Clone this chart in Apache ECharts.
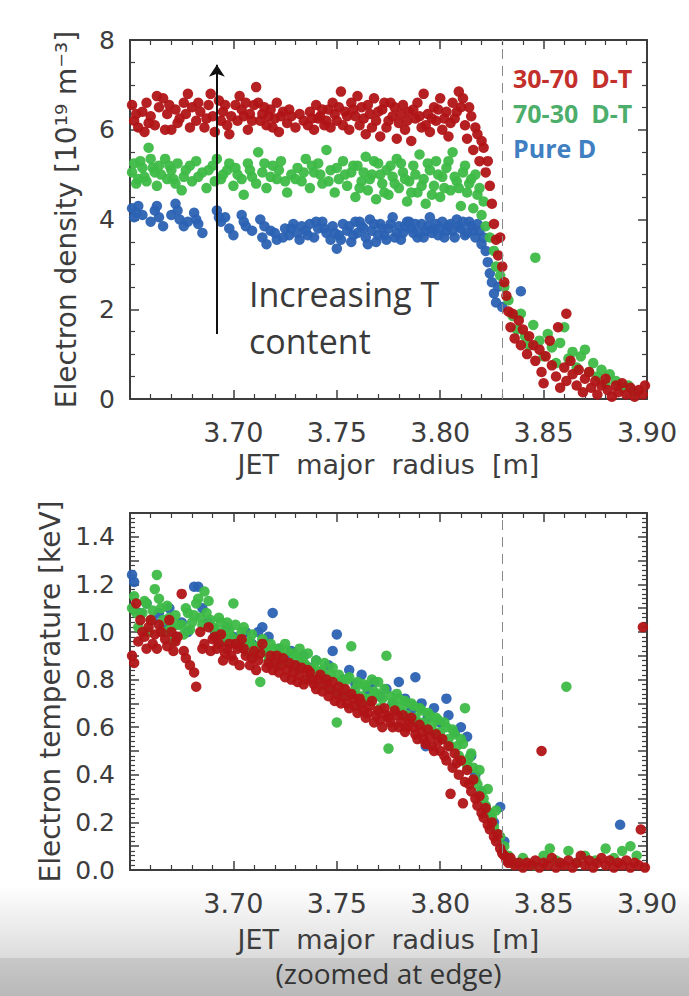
<!DOCTYPE html>
<html>
<head>
<meta charset="utf-8">
<script src="https://cdn.jsdelivr.net/npm/echarts@6/dist/echarts.min.js"></script>
<style>
  html, body { margin: 0; padding: 0; background: #fff; }
  #main { width: 689px; height: 996px; }
</style>
</head>
<body>
<div id="main"></div>
<script>
// series names, drawing order: blue under green under red
const seriesNames = ['Pure D', '70-30  D-T', '30-70  D-T'];
const pointColors = ['#2b62b3', '#3dba46', '#b11416'];
const legendColors = ['#3f7fc2', '#4dae6b', '#c3302c'];

const xTicks = [3.70, 3.75, 3.80, 3.85, 3.90];
const separatrixR = 3.83;

// electron density [1e19 m^-3] vs R [m]
const densBlue = [
  [3.651,4.25],[3.652,4.05],[3.653,4.15],[3.654,4.3],[3.656,4.1],[3.660,3.95],[3.662,4.2],[3.663,4.3],
  [3.664,4.05],[3.666,3.85],[3.670,4.1],[3.672,4.35],[3.673,4.2],[3.674,4.0],[3.676,3.85],[3.678,3.95],
  [3.681,4.15],[3.682,4.0],[3.683,3.9],[3.685,3.7],[3.692,4.2],[3.693,4.05],[3.694,3.95],[3.696,4.05],
  [3.698,3.8],[3.700,3.65],[3.704,4.1],[3.705,3.95],[3.706,3.85],[3.709,3.75],[3.713,4.0],[3.714,3.6],
  [3.715,3.85],[3.716,3.45],[3.718,3.75],[3.720,3.7],[3.721,3.55],[3.724,3.6],[3.725,3.8],[3.727,3.65],
  [3.728,3.8],[3.729,3.9],[3.731,3.7],[3.732,3.55],[3.733,3.85],[3.735,3.75],[3.736,3.65],[3.737,3.9],
  [3.739,3.6],[3.740,3.95],[3.741,3.8],[3.743,3.95],[3.744,3.8],[3.745,3.7],[3.747,3.55],[3.748,3.85],
  [3.749,3.7],[3.750,3.35],[3.751,3.65],[3.752,3.55],[3.753,3.9],[3.755,3.75],[3.756,3.85],[3.757,3.5],
  [3.758,3.65],[3.759,3.95],[3.760,3.7],[3.761,3.95],[3.762,3.85],[3.763,3.8],[3.764,3.6],[3.765,3.45],
  [3.766,4.0],[3.767,3.75],[3.768,3.9],[3.769,3.5],[3.770,3.65],[3.771,3.9],[3.772,3.8],[3.773,3.65],
  [3.774,3.55],[3.775,3.8],[3.776,3.9],[3.777,4.05],[3.778,3.6],[3.779,3.7],[3.780,3.85],[3.781,3.55],
  [3.782,3.7],[3.783,3.85],[3.784,3.95],[3.785,3.95],[3.786,3.8],[3.787,3.7],[3.788,3.9],[3.789,3.6],
  [3.790,3.7],[3.791,3.9],[3.792,3.6],[3.793,3.75],[3.794,3.85],[3.795,4.05],[3.796,3.7],[3.797,3.8],
  [3.798,3.9],[3.799,3.65],[3.800,3.8],[3.801,3.95],[3.802,3.6],[3.803,3.75],[3.804,3.85],[3.805,3.9],
  [3.806,3.75],[3.807,3.6],[3.808,4.0],[3.809,3.85],[3.810,3.8],[3.811,3.95],[3.812,3.65],[3.813,3.7],
  [3.814,3.95],[3.815,3.85],[3.816,3.75],[3.817,3.6],[3.818,3.9],[3.819,3.75],[3.820,3.45],[3.821,3.6],
  [3.822,3.3],[3.823,3.05],[3.824,2.8],[3.825,2.6],[3.826,2.35],[3.827,2.15],[3.828,2.5],[3.830,2.05],
  [3.839,2.4]
];
const densGreen = [
  [3.651,5.05],[3.652,5.25],[3.653,4.8],[3.654,4.9],[3.655,5.3],[3.656,5.15],[3.657,4.95],[3.658,4.85],
  [3.659,5.6],[3.660,5.35],[3.661,5.15],[3.662,5.05],[3.663,4.75],[3.664,5.2],[3.665,5.0],[3.667,5.35],
  [3.668,4.9],[3.669,5.2],[3.670,5.1],[3.671,4.9],[3.672,4.8],[3.673,5.25],[3.675,4.65],[3.676,4.95],
  [3.677,5.1],[3.679,5.2],[3.680,4.85],[3.682,5.3],[3.683,4.95],[3.685,5.05],[3.687,4.7],[3.688,5.1],
  [3.690,5.2],[3.691,4.85],[3.692,5.35],[3.694,4.9],[3.695,5.0],[3.697,5.1],[3.698,5.25],[3.700,4.75],
  [3.701,5.15],[3.702,5.0],[3.704,4.9],[3.705,4.55],[3.707,5.25],[3.708,5.1],[3.709,4.95],[3.711,4.8],
  [3.712,5.5],[3.714,5.05],[3.715,5.25],[3.716,4.7],[3.718,4.95],[3.719,5.2],[3.721,4.9],[3.722,5.1],
  [3.723,5.3],[3.725,4.85],[3.726,4.6],[3.728,5.0],[3.730,4.9],[3.731,5.15],[3.733,4.85],[3.734,5.05],
  [3.735,5.35],[3.737,4.7],[3.738,5.2],[3.739,5.05],[3.741,5.25],[3.742,5.0],[3.743,4.8],[3.745,5.55],
  [3.746,4.85],[3.747,5.1],[3.749,4.6],[3.750,5.15],[3.751,4.9],[3.753,5.3],[3.754,5.0],[3.755,4.75],
  [3.757,5.05],[3.758,5.2],[3.759,4.5],[3.760,5.2],[3.761,4.7],[3.762,4.85],[3.763,5.05],[3.764,5.4],
  [3.765,4.65],[3.766,4.9],[3.767,5.0],[3.768,5.3],[3.769,4.45],[3.770,5.25],[3.771,5.0],[3.772,4.8],
  [3.773,4.6],[3.774,5.1],[3.775,4.55],[3.776,5.2],[3.777,4.95],[3.778,4.8],[3.779,5.35],[3.780,4.7],
  [3.781,5.25],[3.782,5.05],[3.783,4.9],[3.784,4.4],[3.785,4.85],[3.786,4.6],[3.787,5.2],[3.788,5.0],
  [3.789,4.6],[3.790,5.45],[3.791,4.75],[3.792,4.9],[3.793,4.35],[3.794,5.25],[3.795,5.1],[3.796,4.55],
  [3.797,4.75],[3.798,5.3],[3.799,5.0],[3.800,4.5],[3.801,4.95],[3.802,4.7],[3.803,5.15],[3.804,5.3],
  [3.805,4.65],[3.806,5.5],[3.807,4.95],[3.808,4.85],[3.809,4.7],[3.810,4.3],[3.811,5.05],[3.812,5.2],
  [3.813,4.6],[3.814,4.8],[3.815,4.9],[3.816,4.25],[3.817,5.0],[3.818,4.55],[3.819,4.7],[3.820,4.1],
  [3.821,4.4],[3.822,3.85],[3.824,3.6],[3.826,3.3],[3.827,2.95],[3.829,2.75],[3.831,2.5],[3.833,2.2],
  [3.835,1.85],[3.837,1.55],[3.839,1.9],[3.841,1.4],[3.843,1.2],[3.845,1.65],[3.846,3.15],[3.848,1.3],
  [3.850,0.95],[3.852,1.45],[3.854,1.15],[3.856,0.8],[3.858,1.25],[3.860,1.6],[3.862,0.9],[3.864,1.05],
  [3.866,0.7],[3.868,0.95],[3.870,1.1],[3.872,0.6],[3.874,0.8],[3.876,0.5],[3.878,0.65],[3.880,0.35],
  [3.882,0.55],[3.885,0.4],[3.888,0.25],[3.891,0.3],[3.894,0.15]
];
const densRed = [
  [3.651,6.55],[3.652,6.2],[3.653,6.35],[3.654,6.05],[3.656,6.4],[3.657,5.95],[3.658,6.6],[3.659,6.15],
  [3.660,6.3],[3.662,6.1],[3.663,6.75],[3.664,6.5],[3.666,6.7],[3.667,6.0],[3.668,6.35],[3.669,6.55],
  [3.670,6.0],[3.672,6.45],[3.673,6.15],[3.674,6.25],[3.676,6.6],[3.677,6.35],[3.678,6.8],[3.679,6.05],
  [3.680,6.5],[3.682,6.2],[3.683,6.6],[3.684,6.4],[3.686,6.05],[3.687,6.25],[3.688,6.55],[3.689,6.8],
  [3.690,6.3],[3.691,5.95],[3.693,6.65],[3.694,6.2],[3.695,6.4],[3.696,6.55],[3.697,6.1],[3.698,5.9],
  [3.699,6.3],[3.701,6.55],[3.702,6.2],[3.703,6.75],[3.704,6.45],[3.705,6.3],[3.706,6.6],[3.707,6.0],
  [3.708,6.35],[3.709,6.2],[3.710,6.55],[3.711,6.95],[3.712,6.6],[3.713,6.2],[3.714,6.35],[3.715,6.5],
  [3.716,6.1],[3.717,6.3],[3.718,6.45],[3.719,6.05],[3.720,6.25],[3.721,6.6],[3.722,5.95],[3.723,6.3],
  [3.724,6.4],[3.726,6.15],[3.727,6.45],[3.728,6.3],[3.730,6.05],[3.732,6.35],[3.734,6.2],[3.736,6.1],
  [3.737,6.4],[3.738,6.25],[3.739,6.0],[3.740,6.55],[3.741,6.25],[3.742,6.3],[3.743,6.45],[3.744,6.1],
  [3.745,6.2],[3.746,6.45],[3.747,6.05],[3.748,6.6],[3.749,6.35],[3.750,6.2],[3.751,6.5],[3.752,6.85],
  [3.753,6.1],[3.754,6.4],[3.755,6.3],[3.756,6.0],[3.757,6.6],[3.758,6.45],[3.759,6.3],[3.760,6.75],
  [3.761,6.1],[3.762,6.5],[3.763,6.25],[3.764,5.9],[3.765,6.55],[3.766,6.35],[3.767,6.05],[3.768,6.7],
  [3.769,6.2],[3.770,6.4],[3.771,5.85],[3.772,6.45],[3.773,6.6],[3.774,6.05],[3.775,6.2],[3.776,6.6],
  [3.777,6.3],[3.778,6.5],[3.779,5.8],[3.780,6.15],[3.781,6.35],[3.782,6.55],[3.783,6.0],[3.784,6.2],
  [3.785,6.4],[3.786,5.75],[3.787,6.45],[3.788,6.25],[3.789,6.6],[3.790,6.3],[3.791,6.05],[3.792,6.8],
  [3.793,6.1],[3.794,6.35],[3.795,5.95],[3.796,6.25],[3.797,6.5],[3.798,6.2],[3.799,6.45],[3.800,6.7],
  [3.801,6.0],[3.802,6.25],[3.803,6.4],[3.804,5.85],[3.805,6.15],[3.806,6.6],[3.807,6.25],[3.808,6.4],
  [3.809,6.85],[3.810,6.5],[3.811,6.7],[3.812,6.1],[3.813,5.8],[3.814,6.5],[3.815,6.3],[3.816,5.55],
  [3.817,6.05],[3.818,5.9],[3.819,5.3],[3.820,5.75],[3.821,5.6],[3.822,5.05],[3.823,5.3],[3.824,4.75],
  [3.825,4.35],[3.826,3.9],[3.827,3.55],[3.828,3.2],[3.829,3.6],[3.830,2.95],[3.831,2.6],[3.832,2.3],
  [3.833,1.95],[3.834,1.6],[3.835,1.9],[3.836,1.35],[3.838,1.75],[3.839,1.2],[3.840,1.55],[3.842,1.0],
  [3.843,1.4],[3.845,1.2],[3.846,0.85],[3.848,1.1],[3.849,0.6],[3.850,0.35],[3.851,0.95],[3.853,1.3],
  [3.854,0.75],[3.856,0.5],[3.857,1.6],[3.858,0.25],[3.860,0.7],[3.861,1.9],[3.861,0.4],[3.863,0.85],
  [3.864,0.55],[3.866,0.3],[3.867,0.65],[3.869,0.15],[3.870,0.45],[3.872,0.6],[3.873,0.25],[3.875,0.4],
  [3.876,0.1],[3.878,0.3],[3.880,0.45],[3.881,0.2],[3.883,0.05],[3.885,0.3],[3.886,0.15],[3.888,0.35],
  [3.890,0.1],[3.892,0.25],[3.894,0.05],[3.896,0.2],[3.898,0.1],[3.899,0.3]
];

// electron temperature [keV] vs R [m]
const tempBlue = [
  [3.651,1.24],[3.652,1.21],[3.655,1.08],[3.658,1.12],[3.661,1.05],[3.664,1.08],[3.666,1.02],[3.669,1.10],
  [3.672,0.98],[3.675,1.04],[3.678,1.0],[3.681,1.19],[3.683,1.19],[3.685,1.10],[3.688,1.04],[3.691,1.0],
  [3.694,0.96],[3.697,1.02],[3.700,0.98],[3.703,0.94],[3.706,1.0],[3.709,0.95],[3.712,1.0],[3.714,1.02],
  [3.717,0.98],[3.719,1.08],[3.722,0.93],[3.725,0.89],[3.728,0.92],[3.731,0.86],[3.734,0.90],[3.737,0.85],
  [3.740,0.88],[3.743,0.83],[3.746,0.86],[3.748,0.92],[3.750,0.99],[3.753,0.80],[3.756,0.84],[3.759,0.78],
  [3.762,0.82],[3.765,0.76],[3.768,0.79],[3.771,0.73],[3.774,0.76],[3.777,0.70],[3.780,0.79],[3.783,0.72],
  [3.786,0.67],[3.788,0.81],[3.791,0.70],[3.793,0.52],[3.794,0.64],[3.797,0.68],[3.800,0.62],[3.803,0.72],
  [3.804,0.65],[3.807,0.58],[3.810,0.60],[3.813,0.56],[3.815,0.48],[3.817,0.40],[3.820,0.33],[3.823,0.24],
  [3.826,0.20],[3.829,0.265],[3.831,0.12],[3.834,0.04],[3.887,0.19]
];
const tempGreen = [
  [3.651,1.10],[3.652,1.15],[3.653,1.08],[3.654,1.02],[3.656,1.08],[3.657,1.13],[3.658,1.12],[3.659,1.00],
  [3.660,1.05],[3.661,1.09],[3.662,1.18],[3.663,1.24],[3.664,1.14],[3.665,1.10],[3.666,1.05],[3.667,1.00],
  [3.668,1.11],[3.669,1.06],[3.670,1.02],[3.671,0.96],[3.672,1.07],[3.673,1.03],[3.675,1.03],[3.676,0.99],
  [3.677,1.10],[3.678,1.08],[3.679,1.01],[3.680,1.04],[3.681,1.07],[3.682,1.12],[3.683,1.14],[3.684,1.06],
  [3.685,1.03],[3.686,1.17],[3.687,1.08],[3.688,1.13],[3.689,1.05],[3.690,1.02],[3.691,1.01],[3.692,0.98],
  [3.693,1.06],[3.694,1.04],[3.695,1.00],[3.696,0.97],[3.697,1.04],[3.698,1.01],[3.699,0.98],[3.700,1.12],
  [3.701,1.03],[3.702,0.95],[3.703,0.97],[3.704,1.0],[3.705,1.02],[3.706,0.92],[3.707,0.95],[3.708,0.96],
  [3.709,0.99],[3.710,0.90],[3.711,0.93],[3.712,0.94],[3.713,0.79],[3.714,0.97],[3.715,0.92],[3.716,0.91],
  [3.717,0.88],[3.718,0.95],[3.719,0.93],[3.720,0.89],[3.721,0.86],[3.722,0.93],[3.723,0.90],[3.724,0.88],
  [3.725,0.95],[3.726,0.92],[3.727,0.87],[3.728,0.86],[3.729,0.91],[3.730,0.90],[3.731,0.84],[3.732,0.93],
  [3.733,0.89],[3.734,0.87],[3.735,0.86],[3.736,0.91],[3.737,0.81],[3.738,0.84],[3.739,0.85],[3.740,0.88],
  [3.741,0.80],[3.742,0.83],[3.743,0.84],[3.744,0.87],[3.745,0.77],[3.746,0.80],[3.747,0.82],[3.748,0.85],
  [3.749,0.75],[3.750,0.62],[3.751,0.82],[3.752,0.79],[3.753,0.76],[3.754,0.73],[3.755,0.80],[3.756,0.81],
  [3.757,0.94],[3.758,0.74],[3.759,0.76],[3.760,0.79],[3.761,0.70],[3.762,0.73],[3.763,0.78],[3.764,0.77],
  [3.765,0.72],[3.766,0.71],[3.767,0.80],[3.768,0.75],[3.769,0.74],[3.770,0.79],[3.771,0.68],[3.772,0.72],
  [3.773,0.76],[3.774,0.90],[3.775,0.51],[3.776,0.73],[3.777,0.70],[3.778,0.68],[3.779,0.74],[3.780,0.72],
  [3.781,0.66],[3.782,0.69],[3.783,0.71],[3.784,0.65],[3.785,0.64],[3.786,0.70],[3.787,0.69],[3.788,0.64],
  [3.789,0.62],[3.790,0.68],[3.791,0.67],[3.792,0.62],[3.793,0.60],[3.794,0.66],[3.795,0.65],[3.796,0.61],
  [3.797,0.58],[3.798,0.64],[3.799,0.63],[3.800,0.58],[3.801,0.55],[3.802,0.62],[3.803,0.60],[3.804,0.55],
  [3.805,0.52],[3.806,0.59],[3.807,0.57],[3.808,0.52],[3.809,0.48],[3.810,0.55],[3.811,0.53],[3.812,0.68],
  [3.813,0.44],[3.814,0.47],[3.815,0.49],[3.816,0.43],[3.817,0.38],[3.818,0.36],[3.819,0.42],[3.820,0.33],
  [3.821,0.30],[3.822,0.27],[3.823,0.34],[3.824,0.24],[3.825,0.22],[3.826,0.18],[3.827,0.25],[3.828,0.15],
  [3.829,0.14],[3.831,0.10],[3.833,0.06],[3.836,0.03],[3.840,0.05],[3.845,0.02],[3.850,0.06],[3.853,0.09],
  [3.856,0.04],[3.861,0.77],[3.862,0.08],[3.866,0.03],[3.870,0.06],[3.875,0.04],[3.880,0.09],[3.884,0.05],
  [3.888,0.08],[3.892,0.10],[3.895,0.06]
];
const tempRed = [
  [3.651,0.90],[3.652,0.87],[3.653,1.12],[3.654,0.96],[3.655,1.05],[3.656,1.0],[3.657,0.98],[3.658,0.93],
  [3.659,1.02],[3.660,1.05],[3.661,0.95],[3.662,0.99],[3.663,0.93],[3.664,1.03],[3.665,1.0],[3.667,0.97],
  [3.668,0.94],[3.669,1.05],[3.670,1.0],[3.671,0.92],[3.672,0.96],[3.673,0.98],[3.675,1.16],[3.676,0.92],
  [3.677,0.89],[3.679,0.86],[3.681,0.83],[3.682,0.77],[3.684,1.0],[3.685,0.93],[3.686,0.95],[3.688,1.02],
  [3.689,0.92],[3.690,0.97],[3.691,0.98],[3.692,0.93],[3.693,0.95],[3.694,0.99],[3.695,0.88],[3.696,0.91],
  [3.697,0.93],[3.698,0.95],[3.699,0.90],[3.700,0.88],[3.701,0.95],[3.702,0.93],[3.703,0.86],[3.704,0.97],
  [3.705,0.93],[3.706,0.90],[3.708,0.86],[3.709,0.89],[3.710,0.92],[3.711,0.84],[3.712,0.88],[3.713,0.91],
  [3.714,0.95],[3.716,0.85],[3.717,0.87],[3.718,0.90],[3.719,0.84],[3.720,0.87],[3.721,0.90],[3.722,0.83],
  [3.723,0.86],[3.724,0.89],[3.725,0.81],[3.726,0.84],[3.727,0.87],[3.728,0.80],[3.729,0.83],[3.730,0.86],
  [3.731,0.79],[3.732,0.82],[3.733,0.85],[3.734,0.78],[3.735,0.80],[3.736,0.84],[3.737,0.83],[3.738,0.80],
  [3.739,0.78],[3.740,0.76],[3.741,0.80],[3.742,0.82],[3.743,0.75],[3.744,0.78],[3.745,0.80],[3.746,0.73],
  [3.747,0.76],[3.748,0.79],[3.749,0.71],[3.750,0.74],[3.751,0.77],[3.752,0.70],[3.753,0.73],[3.754,0.76],
  [3.755,0.70],[3.756,0.68],[3.757,0.74],[3.758,0.72],[3.759,0.69],[3.760,0.66],[3.761,0.72],[3.762,0.70],
  [3.763,0.67],[3.764,0.64],[3.765,0.66],[3.766,0.69],[3.767,0.71],[3.768,0.62],[3.769,0.65],[3.770,0.67],
  [3.771,0.63],[3.772,0.60],[3.773,0.68],[3.774,0.65],[3.775,0.64],[3.776,0.62],[3.777,0.60],[3.778,0.67],
  [3.779,0.65],[3.780,0.60],[3.781,0.62],[3.782,0.65],[3.783,0.58],[3.784,0.60],[3.785,0.62],[3.786,0.64],
  [3.787,0.60],[3.788,0.57],[3.789,0.55],[3.790,0.61],[3.791,0.58],[3.792,0.55],[3.793,0.53],[3.794,0.59],
  [3.795,0.56],[3.796,0.52],[3.797,0.50],[3.798,0.57],[3.799,0.54],[3.800,0.50],[3.801,0.55],[3.802,0.48],
  [3.803,0.46],[3.804,0.52],[3.805,0.32],[3.806,0.43],[3.807,0.49],[3.808,0.45],[3.809,0.40],[3.810,0.46],
  [3.811,0.28],[3.812,0.37],[3.813,0.42],[3.814,0.36],[3.815,0.33],[3.816,0.38],[3.817,0.30],[3.818,0.27],
  [3.819,0.31],[3.820,0.24],[3.821,0.22],[3.822,0.26],[3.823,0.19],[3.824,0.17],[3.825,0.20],[3.826,0.14],
  [3.827,0.12],[3.828,0.15],[3.829,0.09],[3.830,0.07],[3.831,0.06],[3.832,0.04],[3.833,0.03],[3.834,0.05],
  [3.836,0.02],[3.838,0.03],[3.840,0.01],[3.842,0.03],[3.844,0.02],[3.846,0.04],[3.848,0.01],[3.849,0.50],
  [3.850,0.03],[3.852,0.02],[3.854,0.05],[3.856,0.01],[3.858,0.03],[3.860,0.02],[3.862,0.04],[3.864,0.01],
  [3.866,0.03],[3.868,0.06],[3.870,0.02],[3.872,0.04],[3.874,0.01],[3.876,0.03],[3.878,0.05],[3.880,0.02],
  [3.882,0.04],[3.884,0.01],[3.886,0.03],[3.888,0.02],[3.890,0.04],[3.892,0.01],[3.894,0.03],[3.896,0.02],
  [3.897,0.17],[3.898,1.02],[3.899,0.01]
];

const axisFont = 'DejaVu Sans';
const inkColor = '#3d3d3d';

const chartDom = document.getElementById('main');
const myChart = echarts.init(chartDom, null, { renderer: 'svg' });

function lineStyleOf() {
  return { show: true, onZero: false, lineStyle: { color: inkColor, width: 2 } };
}
function tickOf() {
  return { show: true, inside: true, length: 9, lineStyle: { color: inkColor, width: 1.5 } };
}
function minorOf(n) {
  return { show: true, splitNumber: n, length: 5, lineStyle: { color: inkColor, width: 1.2 } };
}

// bottom axis with labels + mirrored top axis, ticks only
function xAxisPair(gridIndex, name, nameTextStyle) {
  return [
    {
      type: 'value', gridIndex: gridIndex, position: 'bottom',
      min: 3.65, max: 3.90, interval: 0.05,
      axisLine: lineStyleOf(), axisTick: tickOf(), minorTick: minorOf(5),
      splitLine: { show: false },
      name: name, nameLocation: 'middle', nameGap: 52, nameTextStyle: nameTextStyle,
      axisLabel: {
        show: true, margin: 20,
        fontFamily: axisFont, fontSize: 27, color: inkColor,
        formatter: (v) => (xTicks.some(t => Math.abs(t - v) < 1e-6) ? v.toFixed(2) : '')
      }
    },
    {
      type: 'value', gridIndex: gridIndex, position: 'top',
      min: 3.65, max: 3.90, interval: 0.05,
      axisLine: lineStyleOf(), axisTick: tickOf(), minorTick: minorOf(5),
      splitLine: { show: false }, axisLabel: { show: false }
    }
  ];
}

// left axis with labels + mirrored right axis; max is a whole number of intervals
function yAxisPair(gridIndex, max, interval, minorSplit, labelEvery, digits, name) {
  const fmt = (v) => {
    const k = Math.round(v / interval);
    return k % labelEvery === 0 ? v.toFixed(digits) : '';
  };
  return [
    {
      type: 'value', gridIndex: gridIndex, position: 'left',
      min: 0, max: max, interval: interval,
      axisLine: lineStyleOf(), axisTick: tickOf(), minorTick: minorOf(minorSplit),
      splitLine: { show: false },
      name: name, nameLocation: 'middle', nameRotate: 90, nameGap: 50,
      nameTextStyle: { fontFamily: axisFont, fontSize: 28, color: inkColor },
      axisLabel: { show: true, margin: 15, fontFamily: axisFont, fontSize: 25, color: inkColor, formatter: fmt }
    },
    {
      type: 'value', gridIndex: gridIndex, position: 'right',
      min: 0, max: max, interval: interval,
      axisLine: lineStyleOf(), axisTick: tickOf(), minorTick: minorOf(minorSplit),
      splitLine: { show: false }, axisLabel: { show: false }
    }
  ];
}

const densSets = [densBlue, densGreen, densRed];
const tempSets = [tempBlue, tempGreen, tempRed];

const series = [];
[densSets, tempSets].forEach((sets, panel) => {
  sets.forEach((data, i) => {
    series.push({
      name: seriesNames[i],
      type: 'scatter',
      xAxisIndex: panel * 2,
      yAxisIndex: panel * 2,
      data: data,
      symbolSize: 10.5,
      itemStyle: { color: pointColors[i], opacity: 0.95 },
      z: 2 + i
    });
  });
});

// dashed separatrix line in both panels
[0, 3].forEach((k) => {
  series[k].markLine = {
    silent: true,
    symbol: 'none',
    label: { show: false },
    lineStyle: { color: '#8a8a8a', type: [10, 7], width: 1 },
    data: [{ xAxis: separatrixR }]
  };
});

// "increasing T content" arrow
series[2].markLine = {
  silent: true,
  symbol: ['none', 'arrow'],
  symbolSize: 12,
  label: { show: false },
  lineStyle: { color: '#111', type: 'solid', width: 2 },
  data: [[{ coord: [3.692, 1.45] }, { coord: [3.692, 7.45] }]]
};

const option = {
  backgroundColor: '#ffffff',
  animation: false,
  grid: [
    { left: 130, top: 40, width: 517, height: 359 },
    { left: 130, top: 513, width: 517, height: 357 }
  ],
  xAxis: [].concat(
    xAxisPair(0, 'JET  major  radius  [m]', { fontFamily: axisFont, fontSize: 27, color: inkColor }),
    xAxisPair(1, '{a|JET  major  radius  [m]}\n{b|(zoomed at edge)}', {
      rich: {
        a: { fontFamily: axisFont, fontSize: 27, color: inkColor, lineHeight: 34 },
        b: { fontFamily: 'Open Sans', fontSize: 28, color: '#333', lineHeight: 34 }
      }
    })
  ),
  yAxis: [].concat(
    yAxisPair(0, 8, 2, 4, 1, 0, 'Electron density [10¹⁹ m⁻³]'),
    yAxisPair(1, 1.5, 0.1, 5, 2, 1, 'Electron temperature [keV]')
  ),
  legend: {
    orient: 'vertical',
    left: 503,
    top: 60,
    itemWidth: 0,
    itemHeight: 0,
    itemGap: 10,
    selectedMode: false,
    textStyle: { fontFamily: 'Open Sans', fontWeight: 'bold', fontSize: 25 },
    data: [2, 1, 0].map((i) => ({
      name: seriesNames[i],
      icon: 'none',
      textStyle: { color: legendColors[i] }
    }))
  },
  graphic: [
    {
      type: 'rect', z: -100, silent: true,
      shape: { x: 0, y: 885, width: 689, height: 73 },
      style: {
        fill: new echarts.graphic.LinearGradient(0, 0, 0, 1, [
          { offset: 0, color: '#ffffff' },
          { offset: 1, color: '#dcdcdc' }
        ])
      }
    },
    {
      type: 'rect', z: -100, silent: true,
      shape: { x: 0, y: 958, width: 689, height: 38 },
      style: {
        fill: new echarts.graphic.LinearGradient(0, 0, 0, 1, [
          { offset: 0, color: '#c8c8c8' },
          { offset: 1, color: '#b9b9b9' }
        ])
      }
    },
    {
      type: 'text', z: 10, silent: true,
      left: 249, top: 270,
      style: {
        text: 'Increasing T\ncontent',
        fontFamily: 'Open Sans',
        fontSize: 34,
        lineHeight: 47,
        fill: '#3a3a3a'
      }
    }
  ],
  series: series
};

myChart.setOption(option);
</script>
</body>
</html>
